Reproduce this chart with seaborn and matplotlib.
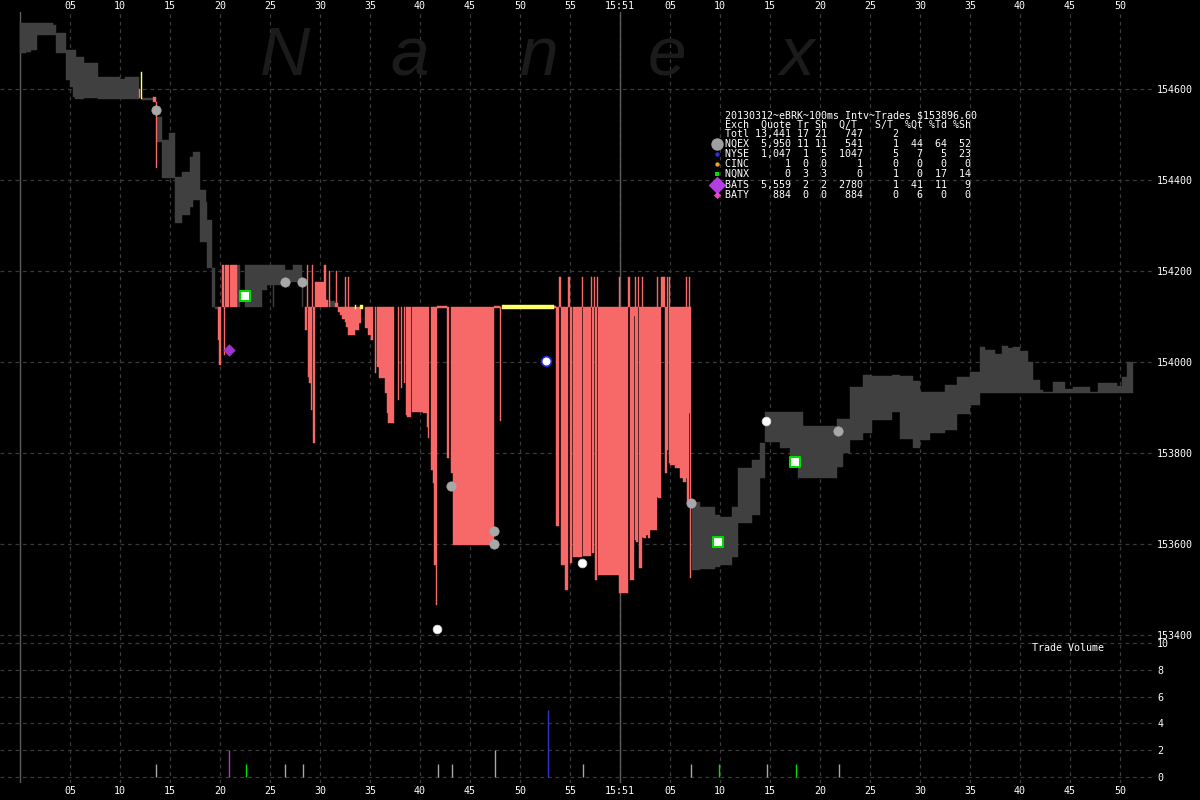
import matplotlib
matplotlib.use("Agg")
import matplotlib.pyplot as plt
import seaborn as sns
import pandas as pd

# ---------------- data (time in seconds after 15:50:00, prices in cents-ish units) ----------------
# NBBO spread band (gray): (t_start, t_end, low, high)
gray_segments = [
    (0.0, 0.6, 154679, 154745), (0.6, 1.1, 154681, 154745), (1.1, 1.7, 154686, 154745),
    (1.7, 3.3, 154719, 154745), (3.3, 3.6, 154719, 154741), (3.6, 4.6, 154679, 154723),
    (4.6, 5.0, 154620, 154686), (5.0, 5.3, 154604, 154686), (5.3, 5.5, 154582, 154686),
    (5.5, 5.6, 154578, 154686), (5.6, 6.4, 154578, 154670), (6.4, 7.8, 154580, 154657),
    (7.8, 10.0, 154578, 154626), (10.0, 10.5, 154578, 154622), (10.5, 11.9, 154578, 154626),
    (12.2, 13.3, 154575, 154580),
    (13.7, 14.2, 154484, 154538), (14.2, 14.9, 154404, 154488), (14.9, 15.5, 154404, 154503),
    (15.5, 16.2, 154305, 154407), (16.2, 17.0, 154323, 154418), (17.0, 17.3, 154341, 154451),
    (17.3, 18.0, 154356, 154462), (18.0, 18.6, 154264, 154378), (18.6, 18.7, 154264, 154352),
    (18.7, 19.2, 154207, 154312), (19.2, 19.5, 154121, 154207), (19.5, 19.8, 154117, 154121),
    (21.7, 22.0, 154120, 154213), (22.5, 24.2, 154120, 154213), (24.2, 24.7, 154158, 154213),
    (24.7, 26.5, 154169, 154213), (25.3, 25.4, 154120, 154169), (26.5, 27.3, 154176, 154202),
    (27.3, 28.2, 154176, 154213), (28.2, 28.3, 154120, 154176), (31.0, 31.5, 154120, 154134),
    (67.2, 68.0, 153543, 153692), (68.0, 69.5, 153545, 153681), (69.5, 70.0, 153549, 153664),
    (70.0, 71.2, 153554, 153659), (71.2, 71.8, 153572, 153681), (71.8, 73.2, 153647, 153767),
    (73.2, 74.0, 153664, 153785), (74.0, 74.5, 153745, 153822), (74.5, 76.0, 153824, 153890),
    (76.0, 77.0, 153811, 153890), (77.0, 77.8, 153789, 153890), (77.8, 78.3, 153745, 153890),
    (78.3, 81.7, 153745, 153860), (81.7, 82.3, 153769, 153875), (82.3, 83.0, 153800, 153875),
    (83.0, 84.3, 153829, 153945), (84.3, 85.2, 153844, 153971), (85.2, 87.2, 153873, 153969),
    (87.2, 88.0, 153890, 153971), (88.0, 89.3, 153830, 153969), (89.3, 90.0, 153811, 153958),
    (90.0, 91.0, 153829, 153934), (91.0, 92.5, 153844, 153934), (92.5, 93.7, 153851, 153949),
    (93.7, 95.0, 153885, 153967), (95.0, 96.0, 153905, 153978), (96.0, 96.5, 153932, 154033),
    (96.5, 97.5, 153932, 154026), (97.5, 98.2, 153932, 154018), (98.2, 98.8, 153932, 154035),
    (98.8, 99.3, 153932, 154031), (99.3, 100.0, 153932, 154033), (100.0, 100.8, 153932, 154024),
    (100.8, 101.3, 153932, 154000), (101.3, 102.0, 153932, 153960), (102.0, 102.3, 153932, 153938),
    (102.3, 103.3, 153932, 153935), (103.3, 104.5, 153932, 153956), (104.5, 105.3, 153932, 153941),
    (105.3, 107.0, 153932, 153945), (107.0, 107.8, 153932, 153935), (107.8, 109.7, 153932, 153954),
    (109.7, 110.2, 153932, 153947), (110.2, 110.7, 153932, 153967), (110.7, 111.3, 153932, 154000),
]

# crossed quotes (red): (t_start, t_end, low, high)
red_segments = [
    (11.9, 12.0, 154580, 154600), (13.3, 13.6, 154571, 154582), (13.6, 13.7, 154426, 154571),
    (19.8, 19.9, 154048, 154120), (19.9, 20.1, 153993, 154120), (20.2, 20.4, 154120, 154213),
    (20.4, 20.5, 154015, 154120), (20.5, 20.9, 154120, 154213), (21.0, 21.7, 154120, 154213),
    (28.5, 28.7, 154070, 154120), (28.7, 28.8, 154120, 154213), (28.8, 28.9, 153967, 154120),
    (28.9, 29.1, 153954, 154120), (29.1, 29.2, 153895, 154120), (29.2, 29.3, 154120, 154213),
    (29.3, 29.5, 153822, 154120), (29.5, 30.4, 154120, 154176), (30.4, 30.6, 154120, 154213),
    (30.6, 30.8, 154120, 154136), (30.9, 31.0, 154120, 154200), (31.5, 31.6, 154120, 154130),
    (31.6, 31.7, 154120, 154200), (31.7, 31.8, 154120, 154130), (31.8, 32.0, 154110, 154120),
    (32.0, 32.2, 154103, 154120), (32.2, 32.5, 154095, 154120), (32.5, 32.6, 154088, 154187),
    (32.6, 32.8, 154077, 154120), (32.8, 32.9, 154059, 154187), (32.9, 33.5, 154059, 154120),
    (33.5, 33.9, 154070, 154120), (33.9, 34.1, 154086, 154120), (34.5, 34.8, 154075, 154120),
    (34.8, 35.1, 154059, 154120), (35.1, 35.3, 154048, 154120), (35.5, 35.6, 153976, 154120),
    (35.7, 35.9, 153989, 154120), (35.9, 36.5, 153965, 154120), (36.5, 36.7, 153932, 154120),
    (36.7, 36.8, 153888, 154120), (36.8, 37.4, 153866, 154120), (37.8, 37.9, 153916, 154120),
    (38.1, 38.2, 153943, 154120), (38.4, 38.5, 153954, 154120), (38.6, 38.7, 153884, 154120),
    (38.7, 39.1, 153879, 154120), (39.2, 40.3, 153890, 154120), (40.3, 40.7, 153888, 154120),
    (40.7, 40.8, 153857, 154120), (40.8, 40.9, 153833, 154120), (41.1, 41.3, 153763, 154120),
    (41.3, 41.4, 153734, 154120), (41.4, 41.6, 153554, 154120), (41.6, 41.7, 153466, 154120),
    (41.7, 42.7, 154118, 154124), (42.7, 42.9, 153789, 154120), (43.1, 43.3, 153756, 154120),
    (43.3, 47.4, 153598, 154120), (47.4, 48.0, 154118, 154124), (48.0, 48.1, 153870, 154120),
    (53.4, 53.6, 154118, 154124), (53.6, 53.9, 153640, 154120), (53.9, 54.1, 154120, 154187),
    (54.1, 54.5, 153554, 154120), (54.5, 54.8, 153499, 154120), (54.8, 55.0, 154120, 154187),
    (55.0, 55.2, 153558, 154120), (55.3, 56.2, 153572, 154120), (56.2, 56.3, 154120, 154187),
    (56.3, 57.1, 153574, 154120), (57.1, 57.2, 154120, 154187), (57.2, 57.4, 153580, 154120),
    (57.4, 57.5, 154120, 154187), (57.5, 57.7, 153521, 154120), (57.7, 57.8, 154120, 154187),
    (57.8, 59.9, 153532, 154120), (59.9, 60.0, 153492, 154187), (60.0, 60.8, 153492, 154120),
    (60.8, 61.0, 154120, 154187), (61.0, 61.4, 153521, 154120), (61.4, 61.5, 154100, 154120),
    (61.5, 61.6, 153609, 154187), (61.6, 61.8, 153604, 154120), (61.8, 61.9, 154120, 154187),
    (61.9, 62.2, 153547, 154120), (62.2, 62.3, 153615, 154187), (62.3, 62.6, 153613, 154120),
    (62.6, 62.8, 153620, 154120), (62.8, 63.0, 153613, 154120), (63.0, 63.7, 153631, 154120),
    (63.7, 63.8, 153703, 154187), (63.8, 64.1, 153701, 154120), (64.1, 64.5, 154120, 154187),
    (64.5, 64.7, 153756, 154120), (64.7, 64.8, 153807, 154187), (64.9, 65.0, 153778, 154187),
    (65.0, 65.5, 153774, 154120), (65.5, 66.0, 153767, 154120), (66.0, 66.3, 153745, 154120),
    (66.3, 66.6, 153736, 154120), (66.6, 66.7, 153745, 154187), (66.7, 66.9, 153692, 154120),
    (66.9, 67.0, 153888, 154187), (67.0, 67.1, 153525, 154120),
]

# locked quotes (yellow)
yellow_segments = [
    (12.1, 12.2, 154578, 154637), (33.5, 33.6, 154117, 154126),
    (34.0, 34.3, 154117, 154126), (48.2, 53.4, 154116, 154125),
]

# trades
nqex_t = [13.6, 26.5, 28.2, 43.1, 47.4, 47.4, 67.1, 81.8]
nqex_px = [154554, 154176, 154176, 153727, 153629, 153600, 153690, 153848]
nqex_out_t = [41.7, 56.2, 74.6]
nqex_out_px = [153413, 153558, 153870]
nyse_t = [52.6]
nyse_px = [154002]
nqnx_t = [22.5, 69.8, 77.5]
nqnx_px = [154145, 153604, 153780]
bats_t = [20.9]
bats_px = [154026]

# trade volume
vol_t = [13.6, 20.9, 22.6, 26.5, 28.3, 41.8, 43.2, 47.5, 52.8, 56.3, 67.1, 69.9, 74.7, 77.6, 81.9]
vol_size = [1, 2, 1, 1, 1, 1, 1, 2, 5, 1, 1, 1, 1, 1, 1]
vol_exch = ["NQEX", "BATS", "NQNX", "NQEX", "NQEX", "NQEX", "NQEX", "NQEX", "NYSE",
            "NQEX", "NQEX", "NQNX", "NQEX", "NQNX", "NQEX"]

time_ticks = list(range(5, 115, 5))
time_labels = ["05", "10", "15", "20", "25", "30", "35", "40", "45", "50", "55", "15:51",
               "05", "10", "15", "20", "25", "30", "35", "40", "45", "50"]
price_ticks = [153400, 153600, 153800, 154000, 154200, 154400, 154600]
vol_ticks = [0, 2, 4, 6, 8, 10]

title_line = "20130312~eBRK~100ms Intv~Trades $153896.60"
table_rows = [
    "Exch  Quote Tr Sh  Q/T   S/T  %Qt %Td %Sh",
    "Totl 13,441 17 21   747     2",
    "NQEX  5,950 11 11   541     1  44  64  52",
    "NYSE  1,047  1  5  1047     5   7   5  23",
    "CINC      1  0  0     1     0   0   0   0",
    "NQNX      0  3  3     0     1   0  17  14",
    "BATS  5,559  2  2  2780     1  41  11   9",
    "BATY    884  0  0   884     0   6   0   0",
]

# ---------------- style ----------------
sns.set_theme(style="dark")
plt.rcParams["font.family"] = ["DejaVu Sans Mono", "DejaVu Sans"]
plt.rcParams["axes.facecolor"] = "black"
plt.rcParams["figure.facecolor"] = "black"

GRID = "#3a3a3a"
BAND = "#404040"
RED = "#f76868"
YEL = "#ffff66"
exch_color = {"NQEX": "#a8a8a8", "BATS": "#c030d8", "NQNX": "#00e000", "NYSE": "#3333d0"}

fig = plt.figure(figsize=(12, 8), dpi=100, facecolor="black")
W, H = 1200.0, 800.0
ax_right = 1153 / W
ax = fig.add_axes([0, 1 - 640 / H, ax_right, (640 - 12) / H])
axv = fig.add_axes([0, 1 - 783 / H, ax_right, (783 - 640) / H])
for a in (ax, axv):
    a.set_facecolor("none")
    for s in a.spines.values():
        s.set_visible(False)
    a.set_xlim(-2.0, 113.3)
    a.set_xticks(time_ticks)
    a.grid(True, color=GRID, linestyle=(0, (3, 3)), linewidth=0.9)
    a.tick_params(colors="white", labelsize=7.2, length=0)
    a.yaxis.tick_right()
    a.set_axisbelow(True)
    for t in (0, 60):
        a.axvline(t, color="#5c5c5c", linewidth=1.0, zorder=1)

ax.set_ylim(153389.0, 154769.2)
ax.set_yticks(price_ticks)
ax.set_yticklabels([str(p) for p in price_ticks], ha="left")
ax.tick_params(axis="y", pad=3)
ax.xaxis.tick_top()
ax.set_xticklabels(time_labels)
ax.tick_params(axis="x", pad=0.5)

axv.set_ylim(-0.448, 10.224)
axv.set_yticks(vol_ticks)
axv.set_yticklabels([str(v) for v in vol_ticks], ha="left")
axv.tick_params(axis="y", pad=3)
axv.set_xticklabels(time_labels)
axv.tick_params(axis="x", pad=2.5)


def draw_segments(segs, color, z):
    df = pd.DataFrame(segs, columns=["t0", "t1", "lo", "hi"])
    ax.bar(df["t0"], df["hi"] - df["lo"], width=df["t1"] - df["t0"], bottom=df["lo"],
           align="edge", color=color, edgecolor=color, linewidth=0.3, zorder=z)


draw_segments(gray_segments, BAND, 2)
draw_segments(red_segments, RED, 3)
draw_segments(yellow_segments, YEL, 4)

# trade markers
sns.scatterplot(x=nqex_t, y=nqex_px, ax=ax, marker="o", s=45, color="#a8a8a8",
                edgecolor="#a8a8a8", linewidth=0.5, zorder=6, legend=False)
sns.scatterplot(x=nqex_out_t, y=nqex_out_px, ax=ax, marker="o", s=40, color="white",
                edgecolor="#d0d0d0", linewidth=0.5, zorder=6, legend=False)
sns.scatterplot(x=nyse_t, y=nyse_px, ax=ax, marker="o", s=48, color="white",
                edgecolor="#2a2ae0", linewidth=1.2, zorder=6, legend=False)
sns.scatterplot(x=nqnx_t, y=nqnx_px, ax=ax, marker="s", s=42, color="white",
                edgecolor="#00dd00", linewidth=1.5, zorder=6, legend=False)
sns.scatterplot(x=bats_t, y=bats_px, ax=ax, marker="D", s=34, color="#a033d0",
                edgecolor="#a033d0", linewidth=0.5, zorder=6, legend=False)

# volume
axv.vlines(vol_t, 0, vol_size, colors=[exch_color[e] for e in vol_exch], linewidth=1.0, zorder=3)

# overlay in pixel coordinates for texts
ov = fig.add_axes([0, 0, 1, 1])
ov.set_facecolor("none")
ov.axis("off")
ov.set_xlim(0, W)
ov.set_ylim(H, 0)

for ch, x in zip("Nanex", [260, 390, 520, 648, 780]):
    ov.text(x, 75, ch, fontsize=50, color="#1b1b1b", style="italic",
            family="Liberation Sans", ha="left", va="baseline", zorder=0)

row_y = [124.3, 133.7, 143.7, 153.7, 163.7, 173.7, 184.7, 195.0]
ov.text(725, 115, title_line, fontsize=7.2, color="white", ha="left", va="center")
for txt, y in zip(table_rows, row_y):
    ov.text(725, y, txt, fontsize=7.2, color="white", ha="left", va="center")

ov.scatter([717], [143.7], s=80, color="#a0a0a0", marker="o", linewidths=0)
ov.scatter([717], [153.7], s=10, color="#3030e0", marker="o", linewidths=0)
ov.scatter([717], [163.7], s=10, color="#f0a020", marker="o", linewidths=0)
ov.scatter([717], [173.7], s=10, color="#00e000", marker="s", linewidths=0)
ov.scatter([717], [184.7], s=80, color="#b040e0", marker="D", linewidths=0)
ov.scatter([717], [195.0], s=14, color="#f040d0", marker="D", linewidths=0)

ov.text(1032, 648, "Trade Volume", fontsize=7.2, color="white", ha="left", va="center")

fig.savefig("out.png", dpi=100, facecolor="black")
